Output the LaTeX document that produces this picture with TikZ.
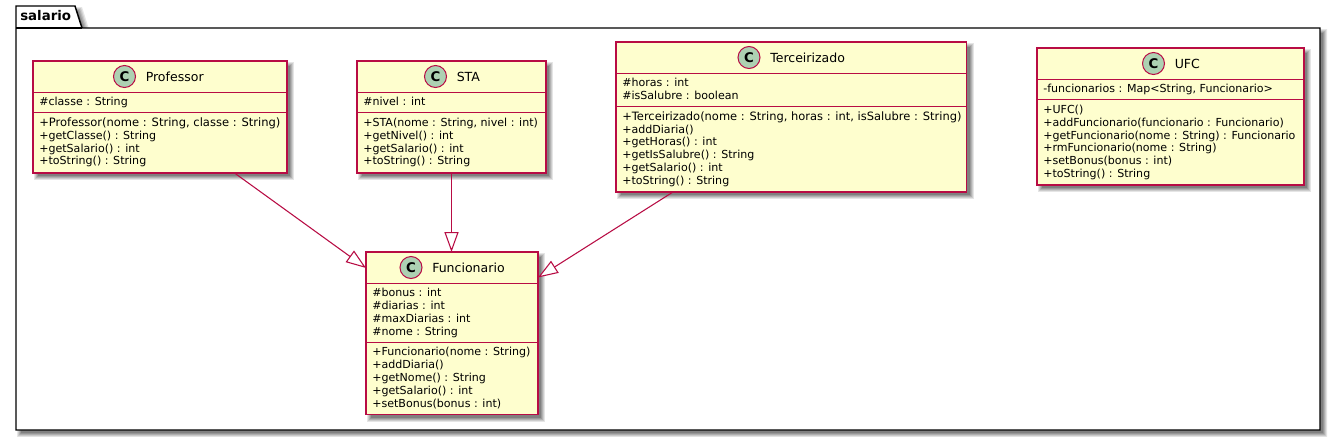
\documentclass[tikz,border=0pt]{standalone}
\usepackage{fontspec}
\setmainfont{DejaVu Sans}
\usetikzlibrary{arrows.meta,calc}
\definecolor{umlred}{HTML}{B80C44}
\definecolor{umlfill}{HTML}{FEFECE}
\definecolor{umlspot}{HTML}{ADD1B2}
\tikzset{
  x=0.75pt,y=-0.75pt,
  pkgline/.style={draw=black,line width=1.1pt,fill=white},
  classbox/.style={draw=umlred,fill=umlfill,line width=1.05pt,inner sep=0pt,outer sep=0pt},
  divider/.style={draw=umlred,line width=.9pt},
  member/.style={anchor=west,inner sep=0pt,font=\fontsize{8.3}{10}\selectfont,text height=6.2pt,text depth=1.7pt},
  titletext/.style={anchor=center,inner sep=0pt,font=\fontsize{9.4}{11}\selectfont},
  spot/.style={circle,draw=umlred,fill=umlspot,line width=.75pt,minimum size=16.5pt,inner sep=0pt,outer sep=0pt,font=\fontsize{10}{10}\bfseries\selectfont},
  inherit/.style={draw=umlred,line width=.8pt,-{Triangle[open,length=15pt,width=10.6pt,fill=white]}},
}
% #1 name #2 x1 #3 y1 #4 x2 #5 y2 #6 div1 #7 div2 #8 title #9 spot x
\newcommand{\umlclass}[9]{%
  \foreach \s/\g in {3/10,2/20,1/30,0/40,-1/50}{\fill[black!\g] (#2+4-\s,#3+4-\s) rectangle (#4+4+\s,#5+4+\s);}
  \node[classbox,minimum width={(#4-#2)*0.75pt},minimum height={(#5-#3)*0.75pt},anchor=north west] (#1) at (#2,#3) {};
  \draw[divider] (#2,#6) -- (#4,#6);
  \draw[divider] (#2,#7) -- (#4,#7);
  \node[spot] (#1spot) at (#9,#3+15.5) {C};
  \node[titletext,anchor=west] (#1title) at (#9+21,#3+15.5) {#8};
}
\newcommand{\mem}[4]{\node[member] (#1) at (#2,#3) {#4};}
\newcommand{\longline}[2]{\fontsize{#1}{10}\selectfont #2}
\begin{document}
\begin{tikzpicture}
\useasboundingbox (0,0) rectangle (1336,436);
\fill[white] (0,0) rectangle (1336,436);
% package
\foreach \s/\g in {3/10,2/20,1/30,0/40,-1/50}{\fill[black!\g] (20-\s,10-\s) -- (79+\s,10-\s) -- (86+\s,32-\s) -- (1324+\s,32-\s) -- (1324+\s,434+\s) -- (20-\s,434+\s) -- cycle;}
\draw[pkgline] (16,6) -- (75,6) -- (82,28) -- (1320,28) -- (1320,430) -- (16,430) -- cycle;
\draw[pkgline] (16,28) -- (82,28);
\node[anchor=west,inner sep=0pt,font=\fontsize{10}{12}\bfseries\selectfont] (pkg) at (20,16) {salario};
% classes
\umlclass{prof}{33}{61}{287}{173}{92.3}{112.5}{Professor}{124.5}
\mem{p1}{39}{102}{\#classe : String}
\mem{p2}{39}{123}{\longline{8.64}{+Professor(nome : String, classe : String)}}
\mem{p3}{39}{136}{+getClasse() : String}
\mem{p4}{39}{149}{+getSalario() : int}
\mem{p5}{39}{161}{+toString() : String}
\umlclass{sta}{357}{61}{546}{173}{92.3}{112.5}{STA}{435.5}
\mem{s1}{363}{102}{\#nivel : int}
\mem{s2}{363}{123}{+STA(nome : String, nivel : int)}
\mem{s3}{363}{136}{+getNivel() : int}
\mem{s4}{363}{149}{+getSalario() : int}
\mem{s5}{363}{161}{+toString() : String}
\umlclass{terc}{616}{42}{966.5}{192}{73.5}{106.5}{Terceirizado}{749}
\mem{t1}{622}{83}{\#horas : int}
\mem{t2}{622}{96}{\#isSalubre : boolean}
\mem{t3}{622}{117}{\longline{8.6}{+Terceirizado(nome : String, horas : int, isSalubre : String)}}
\mem{t4}{622}{130}{+addDiaria()}
\mem{t5}{622}{142}{+getHoras() : int}
\mem{t6}{622}{155}{+getIsSalubre() : String}
\mem{t7}{622}{168}{+getSalario() : int}
\mem{t8}{622}{181}{+toString() : String}
\umlclass{ufc}{1037}{48}{1304}{185}{79.5}{99.5}{UFC}{1153.5}
\mem{u1}{1043}{89}{-funcionarios : Map<String, Funcionario>}
\mem{u2}{1043}{110}{+UFC()}
\mem{u3}{1043}{123}{+addFuncionario(funcionario : Funcionario)}
\mem{u4}{1043}{136}{+getFuncionario(nome : String) : Funcionario}
\mem{u5}{1043}{148}{+rmFuncionario(nome : String)}
\mem{u6}{1043}{161}{+setBonus(bonus : int)}
\mem{u7}{1043}{174}{+toString() : String}
\umlclass{func}{366}{252}{538}{414.5}{283.5}{342.5}{Funcionario}{411}
\mem{f1}{372}{293}{\#bonus : int}
\mem{f2}{372}{306}{\#diarias : int}
\mem{f3}{372}{319}{\#maxDiarias : int}
\mem{f4}{372}{332}{\#nome : String}
\mem{f5}{372}{352}{+Funcionario(nome : String)}
\mem{f6}{372}{365}{+addDiaria()}
\mem{f7}{372}{378}{+getNome() : String}
\mem{f8}{372}{391}{+getSalario() : int}
\mem{f9}{372}{404}{+setBonus(bonus : int)}
% connectors
\draw[inherit] ($(prof.south west)+(201.5,0)$) -- ($(func.north west)+(0,16)$);
\draw[inherit] ($(sta.south west)+(94.5,0)$) -- ($(func.north west)+(85.5,0)$);
\draw[inherit] ($(terc.south west)+(57,0)$) -- ($(func.north east)+(0,25.5)$);
\end{tikzpicture}
\end{document}
